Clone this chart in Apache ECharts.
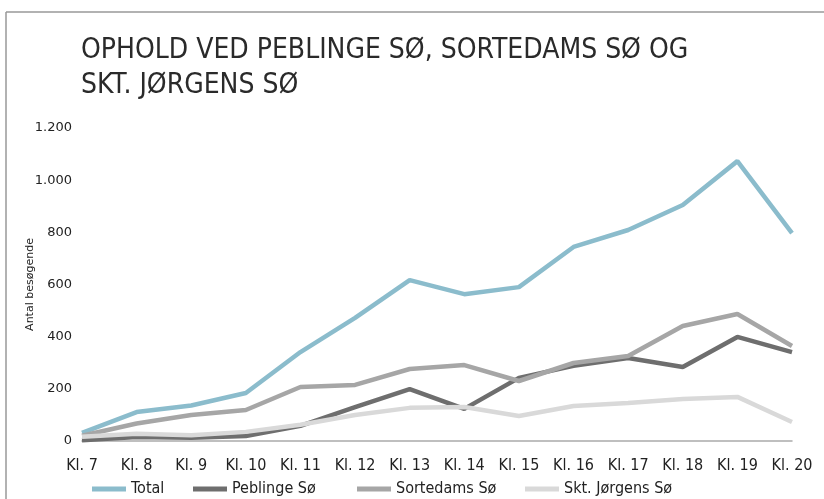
<!DOCTYPE html>
<html>
<head>
<meta charset="utf-8">
<script src="https://cdn.jsdelivr.net/npm/echarts@6/dist/echarts.min.js"></script>
<style>
  html, body { margin: 0; padding: 0; background: #fff; }
  #chart { width: 824px; height: 499px; }
</style>
</head>
<body>
<div id="chart"></div>
<script>
const categories = ['Kl. 7', 'Kl. 8', 'Kl. 9', 'Kl. 10', 'Kl. 11', 'Kl. 12', 'Kl. 13', 'Kl. 14', 'Kl. 15', 'Kl. 16', 'Kl. 17', 'Kl. 18', 'Kl. 19', 'Kl. 20'];
const total = [31, 111, 136, 184, 341, 472, 617, 563, 590, 744, 809, 905, 1073, 797];
const peblinge = [3, 15, 12, 19, 58, 130, 199, 123, 242, 288, 318, 284, 399, 341];
const sortedams = [20, 67, 100, 119, 207, 215, 276, 291, 230, 299, 326, 441, 487, 364];
const sktJorgens = [16, 28, 22, 35, 62, 100, 127, 130, 96, 134, 146, 161, 169, 73];
const seriesNames = ['Total', 'Peblinge Sø', 'Sortedams Sø', 'Skt. Jørgens Sø'];

const font = '"Liberation Sans Narrow", "DejaVu Sans Condensed", sans-serif';
const chart = echarts.init(document.getElementById('chart'));

function line(name, data, color) {
  return {
    name,
    type: 'line',
    data,
    symbol: 'none',
    lineStyle: { width: 4.5, color },
    itemStyle: { color },
  };
}

// legend slots are unevenly spaced in the original, so one legend per item
const legendLefts = [92, 193, 357, 525];
const legends = seriesNames.map((name, i) => ({
  bottom: 2,
  left: legendLefts[i],
  padding: 0,
  itemWidth: 34,
  itemHeight: 5,
  icon: 'rect',
  data: [name],
  textStyle: { fontFamily: font, fontSize: 16, color: '#222' },
}));

const option = {
  animation: false,
  title: {
    text: 'OPHOLD VED PEBLINGE SØ, SORTEDAMS SØ OG\nSKT. JØRGENS SØ',
    left: 76,
    top: 28,
    textStyle: {
      fontFamily: font,
      fontWeight: 'normal',
      fontSize: 28,
      lineHeight: 35,
      color: '#2a2a2a',
    },
  },
  legend: legends,
  grid: {
    left: 82,
    right: 32,
    top: 128,
    bottom: 58,
  },
  xAxis: {
    type: 'category',
    boundaryGap: false,
    data: categories,
    axisTick: { show: false },
    axisLine: { lineStyle: { color: '#aaa', width: 1.5 } },
    axisLabel: { fontFamily: font, fontSize: 16, color: '#222', margin: 17 },
  },
  yAxis: {
    type: 'value',
    min: 0,
    max: 1200,
    interval: 200,
    name: 'Antal besøgende',
    nameLocation: 'middle',
    nameGap: 46,
    nameMoveOverlap: false,
    nameTextStyle: { fontFamily: 'DejaVu Sans', fontSize: 11, color: '#222' },
    splitLine: { show: false },
    axisLine: { show: false },
    axisTick: { show: false },
    axisLabel: {
      fontFamily: 'DejaVu Sans',
      fontSize: 13,
      color: '#222',
      margin: 10,
      formatter: v => v >= 1000 ? (v / 1000).toFixed(3) : String(v),
    },
  },
  graphic: [
    { type: 'line', shape: { x1: 6, y1: 12, x2: 824, y2: 12 }, style: { stroke: '#999', lineWidth: 1.5 } },
    { type: 'line', shape: { x1: 6, y1: 12, x2: 6, y2: 499 }, style: { stroke: '#999', lineWidth: 1.5 } },
  ],
  series: [
    line(seriesNames[0], total, '#8bbccc'),
    line(seriesNames[1], peblinge, '#6e6e6e'),
    line(seriesNames[2], sortedams, '#a6a6a6'),
    line(seriesNames[3], sktJorgens, '#d9d9d9'),
  ],
};

chart.setOption(option);
</script>
</body>
</html>
